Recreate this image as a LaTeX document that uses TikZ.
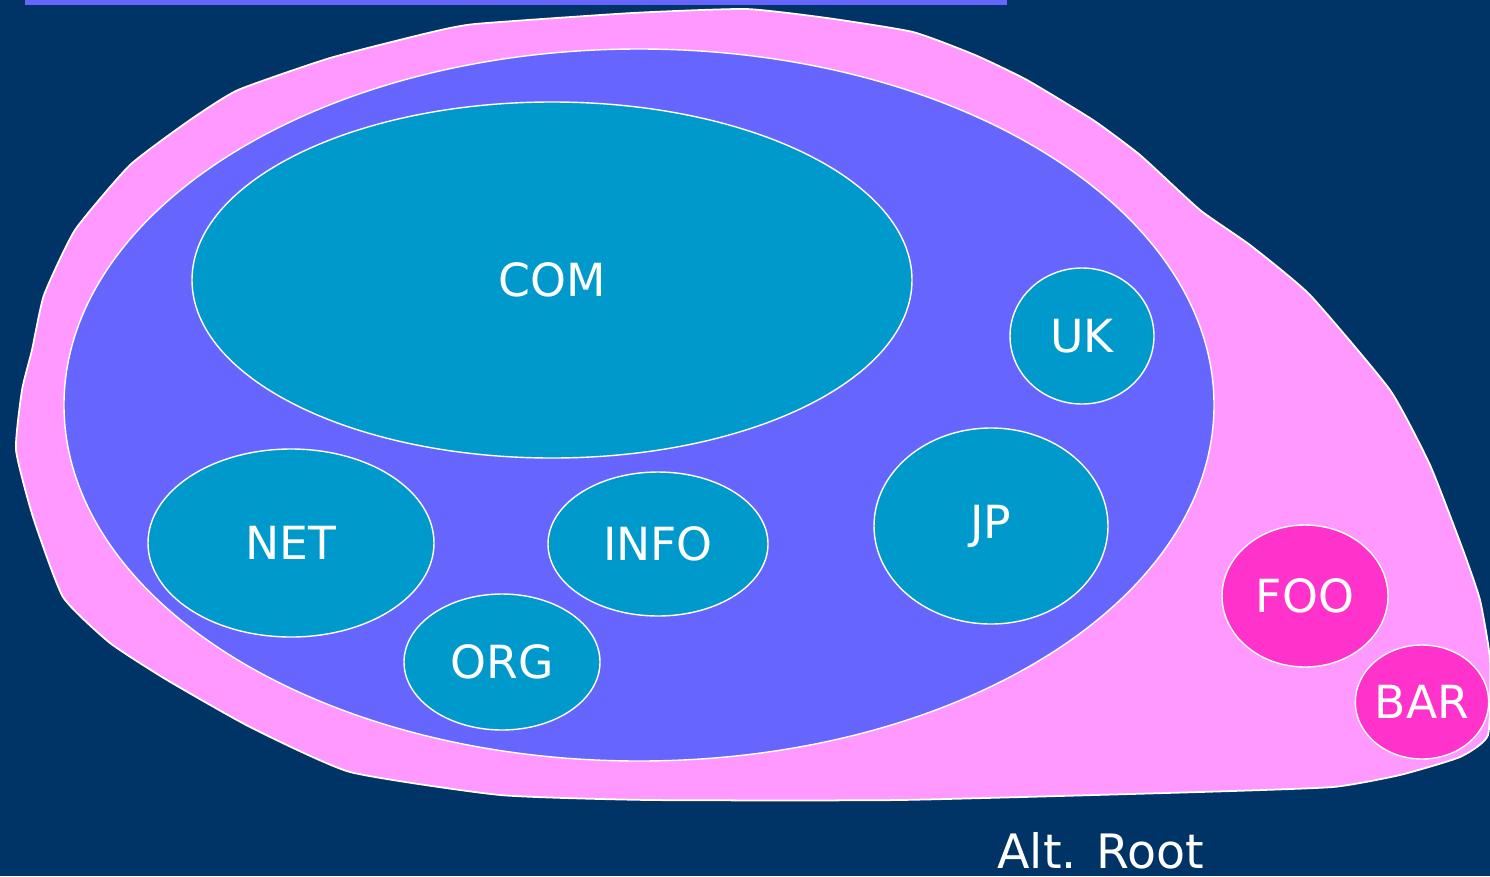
\documentclass[tikz,border=0pt]{standalone}
\usepackage{fontspec}
\setmainfont{DejaVu Sans}
\usepackage{tikz}
\usetikzlibrary{shapes.geometric}
\definecolor{navy}{HTML}{003366}
\definecolor{rootpink}{HTML}{FF99FF}
\definecolor{iana}{HTML}{6666FF}
\definecolor{tld}{HTML}{0099CC}
\definecolor{alttld}{HTML}{FF33CC}
\tikzset{
    dom/.style={ellipse, draw=white, line width=0.8pt, inner sep=0pt, text=white, font=\fontsize{26}{30}\selectfont}
}
\begin{document}
\begin{tikzpicture}[x=0.02cm, y=-0.02cm]
\useasboundingbox[fill=navy] (0,0) rectangle (1490,876);
\fill[iana] (25,0) rectangle (1007,5);
% alternative root
\draw[fill=rootpink, draw=white, line width=1pt] plot[smooth cycle, tension=0.3] coordinates {
    (746,9) (827,18) (913,32) (975,55) (1027,80) (1093,120) (1140,155) (1200,210) (1250,245)
    (1310,295) (1390,390) (1430,465) (1463,550) (1480,600) (1490,660) (1488,735) (1460,757)
    (1400,775) (1333,787) (1200,792) (900,800) (650,800) (500,795) (350,772) (250,727)
    (167,680) (110,643) (63,597) (33,517) (16,450) (22,390) (32,350) (44,295) (75,230)
    (130,165) (190,120) (238,90) (330,58) (428,33) (475,24) (632,13)};
% legacy root
\node[dom, fill=iana, minimum width=1150*0.02cm, minimum height=712*0.02cm] (legacy) at (639,405) {};
\foreach \x/\y/\w/\h/\p/\labeltext in {552/280/720/356/com/COM, 1082/336/144/136/uk/UK, 991/526/234/196/jp/JP, 291/543/286/188/net/NET, 658/544/220/144/info/INFO, 502/662/196/136/org/ORG}{
    \node[dom, fill=tld, minimum width=\w*0.02cm, minimum height=\h*0.02cm] (\p) at (\x,\y) {\labeltext};
}
\foreach \x/\y/\w/\h/\p/\labeltext in {1305/596/166/142/foo/FOO, 1422/702/128/114/bar/BAR}{
    \node[dom, fill=alttld, minimum width=\w*0.02cm, minimum height=\h*0.02cm] (\p) at (\x,\y) {\labeltext};
}
\node[text=white, font=\fontsize{27}{30}\selectfont, anchor=base west, inner sep=0pt] (altroot) at (997,868) {Alt. Root};
\end{tikzpicture}
\end{document}
